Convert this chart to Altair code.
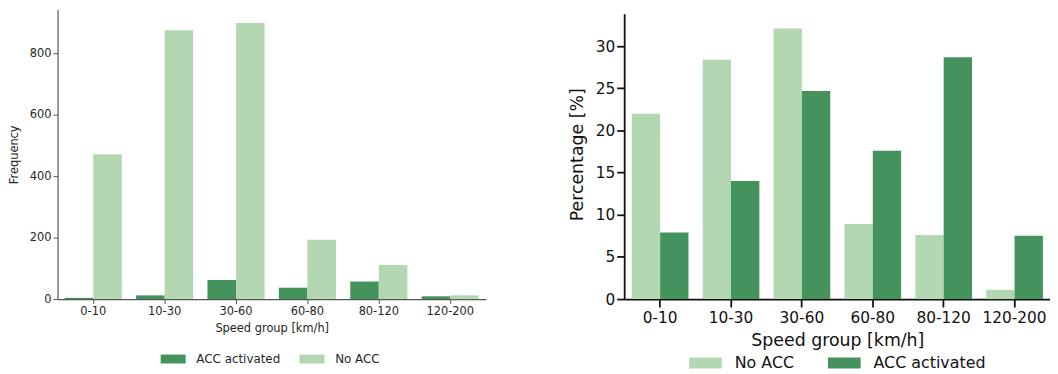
import altair as alt
import pandas as pd

speed_groups = ["0-10", "10-30", "30-60", "60-80", "80-120", "120-200"]
freq_acc = [4, 12, 62, 37, 57, 9]
freq_no_acc = [471, 875, 898, 193, 111, 12]
pct_no_acc = [22.0, 28.4, 32.1, 8.9, 7.6, 1.1]
pct_acc = [7.9, 14.0, 24.7, 17.6, 28.7, 7.5]
right_axis_top = [33.8]

series_left = ["ACC activated", "No ACC"]
series_right = ["No ACC", "ACC activated"]
color_map = {"ACC activated": "#44935c", "No ACC": "#b3d7b0"}

df_freq = pd.DataFrame(
    [{"speed": s, "group": "ACC activated", "value": v} for s, v in zip(speed_groups, freq_acc)]
    + [{"speed": s, "group": "No ACC", "value": v} for s, v in zip(speed_groups, freq_no_acc)]
)
df_pct = pd.DataFrame(
    [{"speed": s, "group": "No ACC", "value": v} for s, v in zip(speed_groups, pct_no_acc)]
    + [{"speed": s, "group": "ACC activated", "value": v} for s, v in zip(speed_groups, pct_acc)]
)
df_axis = pd.DataFrame({"lo": [0], "hi": right_axis_top})

FONT = "DejaVu Sans"

left_axis = dict(labelFont=FONT, titleFont=FONT, labelFontSize=11.5, titleFontSize=11.5,
                 labelColor="#262626", titleColor="#262626", titleFontWeight="normal",
                 domainColor="#555555", tickColor="#555555", domainWidth=1.2, tickWidth=1,
                 tickSize=4.5, labelPadding=2, grid=False)
right_axis = dict(labelFont=FONT, titleFont=FONT, labelFontSize=15.5, titleFontSize=17.5,
                  labelColor="#111111", titleColor="#111111", titleFontWeight="normal",
                  tickColor="#111111", tickWidth=1.8,
                  tickSize=8, grid=False)

left = alt.Chart(df_freq).mark_bar().encode(
    x=alt.X("speed:N", sort=speed_groups,
            scale=alt.Scale(paddingInner=0.2, paddingOuter=0.1),
            axis=alt.Axis(title="Speed group [km/h]", labelAngle=0, titlePadding=6, **left_axis)),
    xOffset=alt.XOffset("group:N", sort=series_left, scale=alt.Scale(domain=series_left)),
    y=alt.Y("value:Q", scale=alt.Scale(domain=[0, 942], nice=False),
            axis=alt.Axis(title="Frequency", values=[0, 200, 400, 600, 800], titlePadding=10, **left_axis)),
    color=alt.Color("group:N",
                    scale=alt.Scale(domain=series_left, range=[color_map[s] for s in series_left]),
                    legend=alt.Legend(title=None, orient="none", legendX=107.6, legendY=343.5,
                                      direction="horizontal", padding=0,
                                      symbolType="M-1.4,-0.5H1.4V0.5H-1.4Z", symbolSize=324,
                                      symbolStrokeWidth=0, symbolOpacity=1,
                                      labelOffset=14.4, columnPadding=18,
                                      labelFont=FONT, labelFontSize=12, labelColor="#262626")),
).properties(width=432, height=292)

right_bars = alt.Chart(df_pct).mark_bar().encode(
    x=alt.X("speed:N", sort=speed_groups,
            scale=alt.Scale(paddingInner=0.2, paddingOuter=0.1),
            axis=alt.Axis(title="Speed group [km/h]", labelAngle=0, titlePadding=5, labelPadding=4,
                          domainColor="#111111", domainWidth=1.8, **right_axis)),
    xOffset=alt.XOffset("group:N", sort=series_right, scale=alt.Scale(domain=series_right)),
    y=alt.Y("value:Q", scale=alt.Scale(domain=[0, 34.35], nice=False),
            axis=alt.Axis(title="Percentage [%]", values=[0, 5, 10, 15, 20, 25, 30], titlePadding=9,
                          labelPadding=2, domain=False, **right_axis)),
    color=alt.Color("group:N",
                    scale=alt.Scale(domain=series_right, range=[color_map[s] for s in series_right]),
                    legend=alt.Legend(title=None, orient="none", legendX=70.5, legendY=345.5,
                                      direction="horizontal", padding=0,
                                      symbolType="M-1.5,-0.5H1.5V0.5H-1.5Z", symbolSize=484,
                                      symbolStrokeWidth=0, symbolOpacity=1,
                                      labelOffset=18.5, columnPadding=33,
                                      labelFont=FONT, labelFontSize=16, labelColor="#111111")),
)

right_axis_line = alt.Chart(df_axis).mark_rule(color="#111111", strokeWidth=1.8).encode(
    x=alt.value(0),
    y=alt.Y("lo:Q"),
    y2=alt.Y2("hi:Q"),
)

right = alt.layer(right_bars, right_axis_line).properties(width=429, height=292)

chart = alt.hconcat(left, right, spacing=83).resolve_scale(
    color="independent", xOffset="independent"
).properties(
    padding={"left": 0, "top": 0, "right": 0, "bottom": 0}
).configure_view(stroke=None)

chart.save("out.html", embed_options={"renderer": "svg", "actions": False})
